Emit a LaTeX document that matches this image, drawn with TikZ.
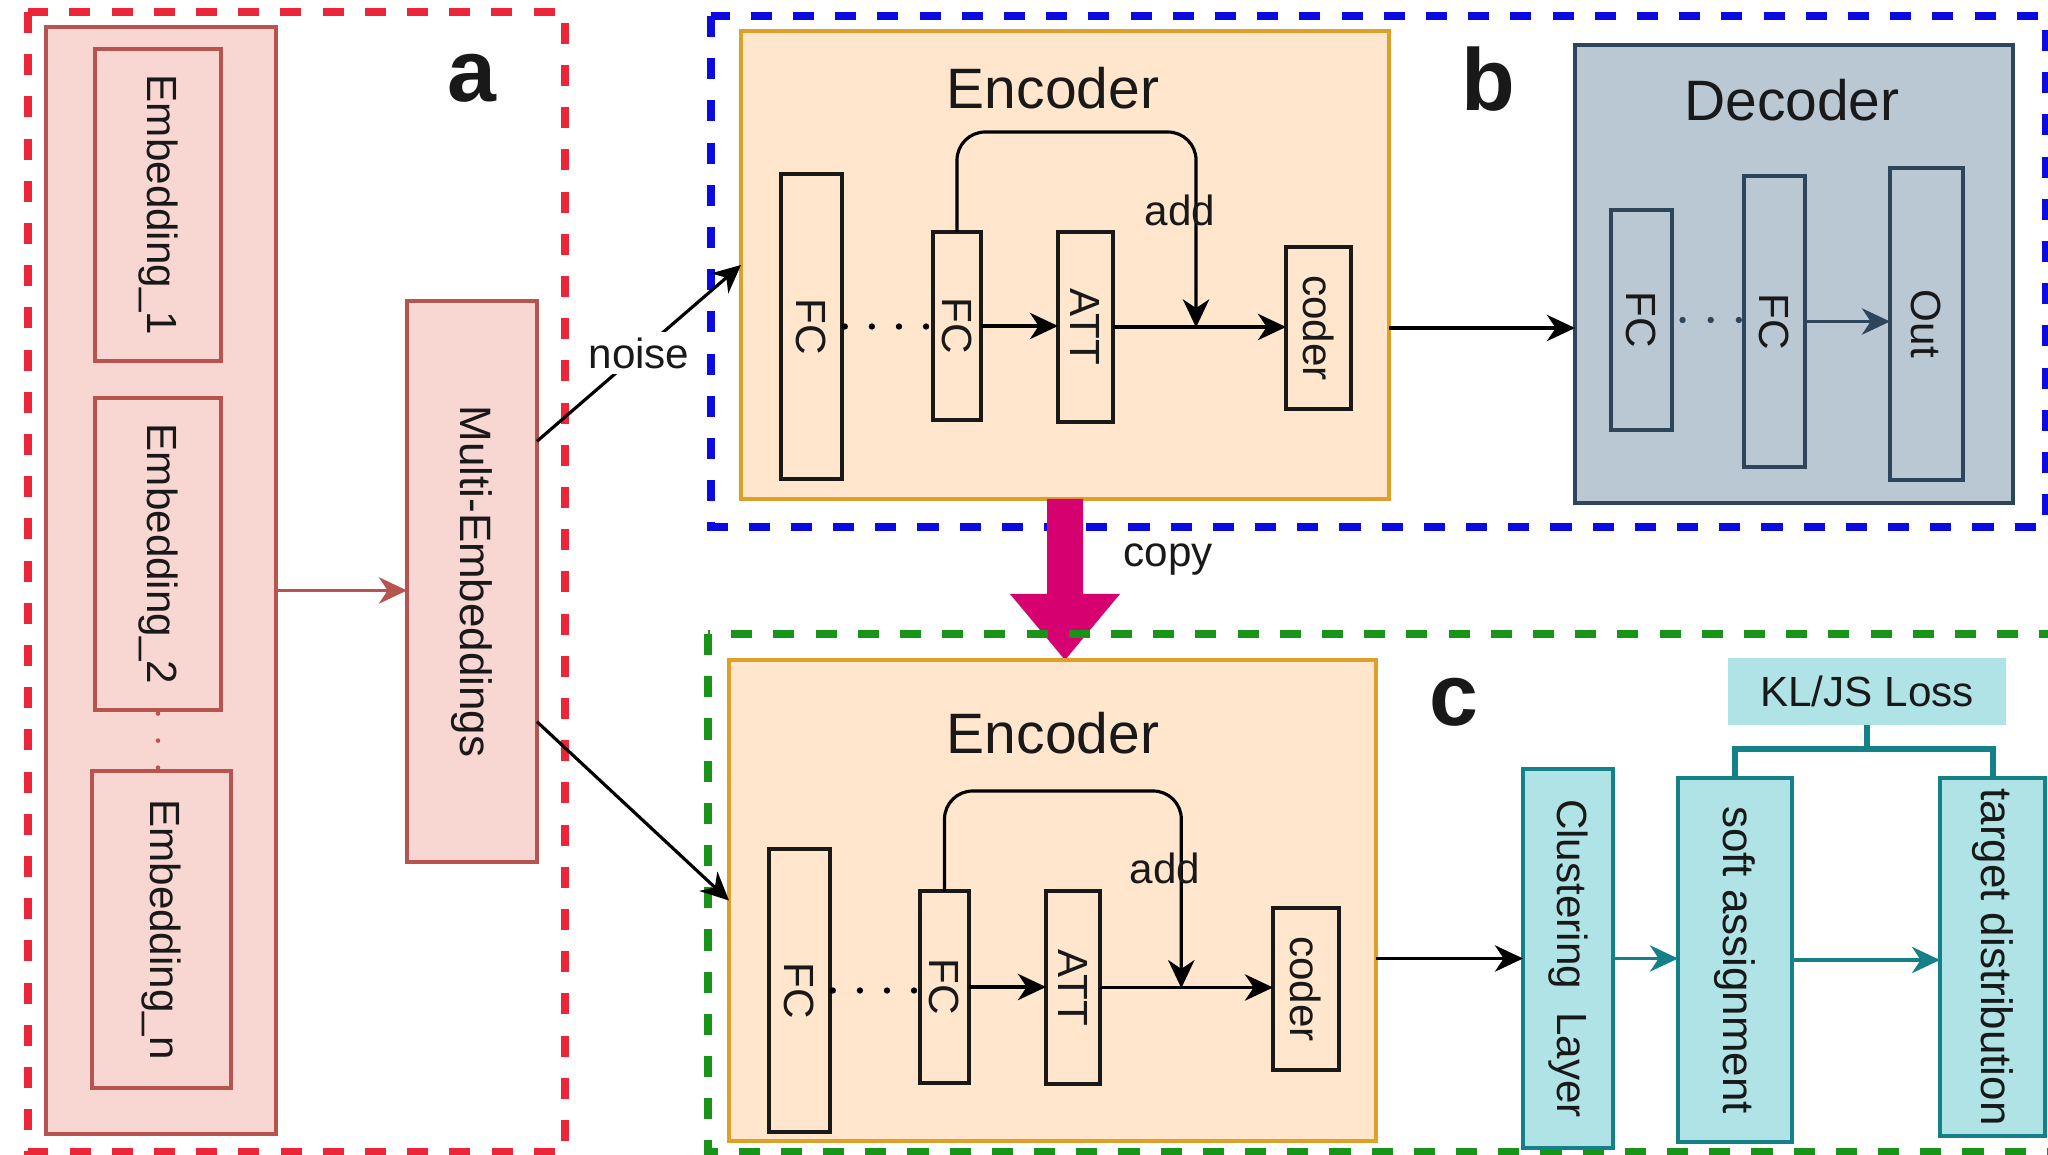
\documentclass[tikz,border=0pt]{standalone}
\usepackage{fontspec}
\setmainfont{Liberation Sans}
\usepackage{graphicx}
\usetikzlibrary{arrows.meta,calc,fit}

\definecolor{dashred}{RGB}{236,38,56}
\definecolor{dashblue}{RGB}{10,10,225}
\definecolor{dashgreen}{RGB}{24,148,24}
\definecolor{embfill}{RGB}{248,214,209}
\definecolor{embline}{RGB}{184,84,80}
\definecolor{encfill}{RGB}{255,230,204}
\definecolor{encline}{RGB}{222,160,40}
\definecolor{decfill}{RGB}{186,200,211}
\definecolor{decline}{RGB}{45,70,92}
\definecolor{copyc}{RGB}{214,0,112}
\definecolor{tealfill}{RGB}{176,227,230}
\definecolor{tealline}{RGB}{20,128,136}
\definecolor{txt}{RGB}{25,25,25}

\newcommand\txtsz{\fontsize{12}{14}\selectfont}
\newcommand\txtszb{\fontsize{12.5}{15}\selectfont}
\newcommand\titlesz{\fontsize{16.2}{19}\selectfont}
\newcommand\panelsz{\fontsize{25}{30}\selectfont\bfseries}
\newcommand\vtext[1]{\rotatebox{-90}{#1}}

\tikzset{
  panelframe/.style={line width=2pt, dash pattern=on 6pt off 6pt},
  boxfit/.style={inner sep=0pt, outer sep=0pt},
  embbox/.style={boxfit, draw=embline, fill=embfill, line width=1pt},
  encbox/.style={boxfit, draw=encline, fill=encfill, line width=1pt},
  layerbox/.style={boxfit, draw=black!90, line width=1.1pt},
  decbox/.style={boxfit, draw=decline, fill=decfill, line width=1pt},
  tealbox/.style={boxfit, draw=tealline, fill=tealfill, line width=1pt},
  link/.style={-{Stealth[length=8pt,width=7.5pt,inset=2.5pt]}, line width=0.9pt, draw=black},
  dots/.style={line width=1.8pt, line cap=round, dash pattern=on 0pt off 7.7pt},
  bracket/.style={draw=tealline, line width=1.7pt}
}

\begin{document}
\begin{tikzpicture}[x=0.01cm, y=-0.01cm, every node/.style={font=\txtsz, text=txt}]
\useasboundingbox (0,0) rectangle (2048,1155);
\clip (0,0) rectangle (2048,1155);

% ---------- panel a: embeddings ----------
\draw[panelframe, draw=dashred] (28,12) rectangle (565,1152);
\node[embbox, fit={(46,27) (276,1134)}] (embs) {};
\node[embbox, fit={(95,49) (221,361)}] (emb1) {\vtext{Embedding\_1}};
\node[embbox, fit={(95,398) (221,710)}] (emb2) {\vtext{Embedding\_2}};
\node[embbox, fit={(92,771) (231,1088)}] (embn) {\vtext{Embedding\_n}};
\node[embbox, fit={(407,301) (537,862)}, font=\txtszb] (multi) {\vtext{Multi-Embeddings}};
\node[font=\panelsz] (la) at (472,78) {a};
\draw[dots, draw=embline, line width=1.3pt, shorten <=1pt] (emb2.south) -- (emb2.south |- embn.north);
\coordinate (embout) at ($(embs.east)+(0,10)$);
\draw[link, draw=embline] (embout) -- (embout -| multi.west);

% ---------- panel b: autoencoder ----------
\draw[panelframe, draw=dashblue] (711,16) rectangle (2045,527);
\node[encbox, fit={(741,31) (1389,499)}] (enc1) {};
\node[font=\titlesz] (enc1t) at (1053,88) {Encoder};
\node[layerbox, fit={(781,174) (842,479)}] (fcA1) {\vtext{FC}};
\node[layerbox, fit={(933,232) (981,420)}] (fcB1) {\vtext{FC}};
\node[layerbox, fit={(1058,232) (1113,422)}] (att1) {\vtext{ATT}};
\node[layerbox, fit={(1286,247) (1351,409)}] (cod1) {\vtext{coder}};
\draw[dots, shorten <=0.8pt, shorten >=1.2pt] (fcA1.east) -- (fcA1.east -| fcB1.west);
\draw[link] (fcB1.east) -- (fcB1.east -| att1.west);
\draw[link] (att1.east) -- (att1.east -| cod1.west);
\coordinate (join1) at ($(att1.east)!0.48!(cod1.west)$);
\draw[link, rounded corners=8pt] (fcB1.north) -- ++(0,-100) -| (join1);
\node (add1) at (1180,210) {add};

\node[decbox, fit={(1575,45) (2013,503)}] (dec) {};
\node[font=\titlesz] (dect) at (1792,100) {Decoder};
\node[decbox, fit={(1611,210) (1672,430)}] (dfc1) {\vtext{FC}};
\node[decbox, fit={(1744,176) (1805,467)}] (dfc2) {\vtext{FC}};
\node[decbox, fit={(1890,168) (1963,480)}] (dout) {\vtext{Out}};
\draw[dots, draw=decline, dash pattern=on 0pt off 8pt, shorten <=3pt, shorten >=1pt] (dfc1.east) -- (dfc1.east -| dfc2.west);
\draw[link, draw=decline] (dfc2.east) -- (dfc2.east -| dout.west);
\draw[link] (cod1 -| enc1.east) -- (cod1 -| dec.west);
\node[font=\panelsz] (lb) at (1488,79) {b};

% noisy input to the encoder
\draw[link] ($(multi.north east)!0.25!(multi.south east)$) -- node[fill=white, inner sep=1.5pt] (noise) {noise} (enc1.west);

% ---------- copy of the encoder weights ----------
\coordinate (ctop) at (enc1.south);
\coordinate (cbot) at (enc1.south |- 0,660);
\fill[copyc] ($(ctop)+(-18,0)$) -- ($(ctop)+(18,0)$) -- ($(cbot)+(18,-66)$) -- ($(cbot)+(55,-66)$)
  -- (cbot) -- ($(cbot)+(-55,-66)$) -- ($(cbot)+(-18,-66)$) -- cycle;
\node (copyl) at (1168,560) {copy};

% ---------- panel c: clustering ----------
\draw[panelframe, draw=dashgreen] (708,634) rectangle (2090,1152);
\node[encbox, fit={(729,660) (1376,1141)}] (enc2) {};
\node[font=\titlesz] (enc2t) at (1053,733) {Encoder};
\node[layerbox, fit={(769,849) (830,1132)}] (fcA2) {\vtext{FC}};
\node[layerbox, fit={(920,891) (969,1083)}] (fcB2) {\vtext{FC}};
\node[layerbox, fit={(1046,891) (1100,1084)}] (att2) {\vtext{ATT}};
\node[layerbox, fit={(1273,908) (1339,1070)}] (cod2) {\vtext{coder}};
\draw[dots, shorten <=0.8pt, shorten >=1.2pt] (fcA2.east) -- (fcA2.east -| fcB2.west);
\draw[link] (fcB2.east) -- (fcB2.east -| att2.west);
\draw[link] (att2.east) -- (att2.east -| cod2.west);
\coordinate (join2) at ($(att2.east)!0.47!(cod2.west)$);
\draw[link, rounded corners=8pt] (fcB2.north) -- ++(0,-100) -| (join2);
\node (add2) at (1165,868) {add};

\draw[link] ($(multi.north east)!0.75!(multi.south east)$) -- (enc2.west);

\node[font=\panelsz] (lc) at (1454,702) {c};
\node[tealbox, draw=none, fit={(1728,658) (2006,725)}] (kl) {};
\node (kltext) at (kl.center) {KL/JS Loss};
\node[tealbox, fit={(1523,769) (1613,1148)}] (clu) {\vtext{Clustering\ \ Layer}};
\node[tealbox, fit={(1678,778) (1792,1142)}, font=\txtszb] (soft) {\vtext{soft assignment}};
\node[tealbox, fit={(1940,778) (2045,1136)}, font=\txtszb] (targ) {\vtext{target distribution}};
\draw[link] (enc2.east |- clu) -- (clu.west);
\draw[link, draw=tealline] (clu.east) -- (clu.east -| soft.west);
\draw[link, draw=tealline] (soft.east) -- (soft.east -| targ.west);
\coordinate (klj) at ($(kl.south)+(0,24)$);
\draw[bracket] (kl.south) -- (klj);
\draw[bracket] (soft.north) |- (klj) -| (targ.north);
\end{tikzpicture}
\end{document}
